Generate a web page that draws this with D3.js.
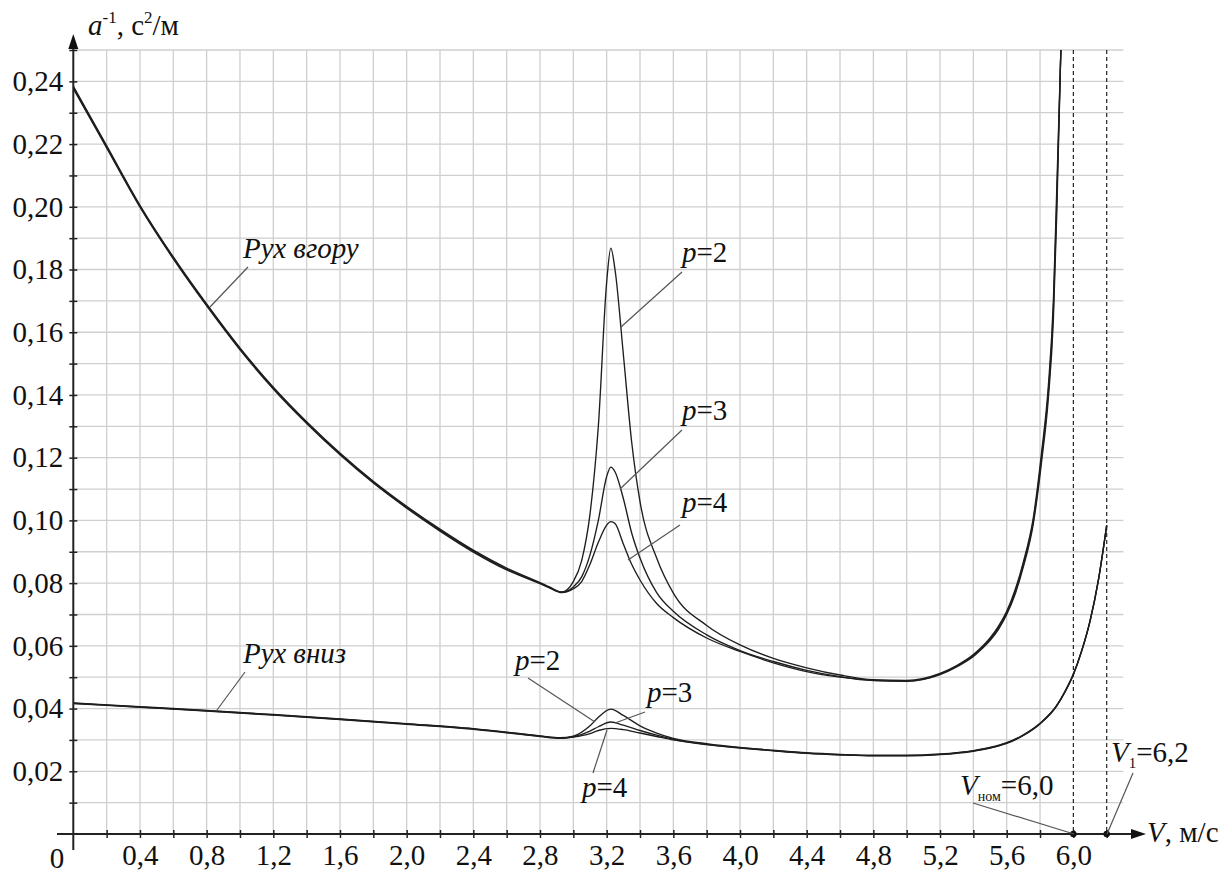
<!DOCTYPE html>
<html><head><meta charset="utf-8">
<script src="https://cdn.jsdelivr.net/npm/d3@7"></script>
<style>body{margin:0;background:#fff}svg{display:block}
svg text{font-family:"Liberation Serif","Tinos","Times New Roman",Times,"DejaVu Serif","Noto Serif",serif;}</style>
</head><body>
<svg id="c" width="1229" height="873"></svg>
<script>
// ---- data ----
const upV  = [0,0.2,0.4,0.6,0.8,1.0,1.2,1.4,1.6,1.8,2.0,2.2,2.4,2.6,2.8,2.86,2.93,3.0,3.05,3.1,3.15,3.2,3.225,3.25,3.3,3.35,3.4,3.5,3.6,3.8,4.0,4.2,4.4,4.6,4.8,5.0,5.2,5.3,5.4,5.45,5.5,5.55,5.6,5.65,5.7,5.76,5.81,5.85,5.88,5.9,5.925];
const upP2 = [0.2385,0.2195,0.2005,0.1840,0.1690,0.1550,0.1425,0.1315,0.1215,0.1125,0.1045,0.0972,0.0905,0.0848,0.0802,0.0787,0.0772,0.0805,0.0872,0.1020,0.1300,0.1760,0.1868,0.1800,0.1530,0.1250,0.1060,0.0880,0.0768,0.0665,0.0603,0.0560,0.0530,0.0507,0.0492,0.0490,0.0512,0.0537,0.0572,0.0596,0.0625,0.0662,0.0710,0.0778,0.0868,0.1010,0.1220,0.1430,0.1700,0.2050,0.2500];
const upP3 = [0.2380,0.2191,0.2002,0.1837,0.1687,0.1547,0.1422,0.1312,0.1212,0.1122,0.1042,0.0969,0.0902,0.0845,0.0800,0.0785,0.0771,0.0788,0.0820,0.0890,0.1000,0.1140,0.1170,0.1155,0.1070,0.0960,0.0880,0.0770,0.0710,0.0635,0.0585,0.0550,0.0522,0.0502,0.0490,0.0488,0.0510,0.0535,0.0569,0.0593,0.0621,0.0657,0.0705,0.0771,0.0860,0.1000,0.1205,0.1410,0.1670,0.2010,0.2500];
const upP4 = [0.2377,0.2188,0.1999,0.1834,0.1684,0.1544,0.1419,0.1309,0.1209,0.1119,0.1039,0.0966,0.0899,0.0842,0.0798,0.0784,0.0770,0.0782,0.0805,0.0860,0.0930,0.0985,0.0996,0.0990,0.0925,0.0860,0.0810,0.0735,0.0690,0.0625,0.0582,0.0546,0.0518,0.0500,0.0489,0.0487,0.0508,0.0533,0.0566,0.0590,0.0617,0.0652,0.0700,0.0764,0.0852,0.0990,0.1190,0.1390,0.1640,0.1970,0.2500];

const dnV  = [0,0.4,0.8,1.2,1.6,2.0,2.4,2.8,2.92,3.0,3.1,3.15,3.225,3.3,3.4,3.5,3.6,3.8,4.0,4.2,4.4,4.6,4.8,5.0,5.2,5.4,5.5,5.6,5.7,5.8,5.9,5.95,6.0,6.05,6.1,6.15,6.2];
const dnP2 = [0.0418,0.0406,0.0394,0.0381,0.0367,0.0352,0.0336,0.0313,0.0307,0.0312,0.0345,0.0372,0.0398,0.0378,0.0345,0.0322,0.0305,0.0288,0.0276,0.0267,0.0259,0.0254,0.0251,0.0251,0.0255,0.0266,0.0276,0.0291,0.0316,0.0353,0.0410,0.0455,0.0510,0.0585,0.0680,0.0810,0.0985];
const dnP3 = [0.0417,0.0405,0.0393,0.0380,0.0366,0.0351,0.0335,0.0312,0.0306,0.0310,0.0328,0.0342,0.0357,0.0347,0.0330,0.0315,0.0302,0.0286,0.0275,0.0266,0.0258,0.0253,0.0250,0.0250,0.0254,0.0265,0.0275,0.0290,0.0315,0.0352,0.0409,0.0454,0.0509,0.0584,0.0679,0.0809,0.0984];
const dnP4 = [0.0416,0.0404,0.0392,0.0379,0.0365,0.0350,0.0334,0.0311,0.0305,0.0309,0.0320,0.0330,0.0337,0.0333,0.0322,0.0311,0.0300,0.0285,0.0274,0.0265,0.0257,0.0252,0.0249,0.0249,0.0253,0.0264,0.0274,0.0289,0.0314,0.0351,0.0408,0.0453,0.0508,0.0583,0.0678,0.0808,0.0983];

const xTickVals   = [0.2,0.4,0.6,0.8,1.0,1.2,1.4,1.6,1.8,2.0,2.2,2.4,2.6,2.8,3.0,3.2,3.4,3.6,3.8,4.0,4.2,4.4,4.6,4.8,5.0,5.2,5.4,5.6,5.8,6.0,6.2];
const xLabelVals  = [0.4,0.8,1.2,1.6,2.0,2.4,2.8,3.2,3.6,4.0,4.4,4.8,5.2,5.6,6.0];
const xLabels     = ["0,4","0,8","1,2","1,6","2,0","2,4","2,8","3,2","3,6","4,0","4,4","4,8","5,2","5,6","6,0"];
const yLabelVals  = [0.02,0.04,0.06,0.08,0.10,0.12,0.14,0.16,0.18,0.20,0.22,0.24];
const yLabels     = ["0,02","0,04","0,06","0,08","0,10","0,12","0,14","0,16","0,18","0,20","0,22","0,24"];
const yTickVals   = d3.range(1,26).map(i=>i/100);
const markV       = [6.0, 6.2];

// ---- scales ----
const x = d3.scaleLinear().domain([0,6.2]).range([73.3,1106.7]);
const y = d3.scaleLinear().domain([0,0.25]).range([834,50]);
const svg = d3.select("#c");

// grid
const grid = svg.append("g").attr("stroke","#cfcfcf").attr("stroke-width",1.3);
grid.selectAll(".h").data(yTickVals).enter().append("line")
  .attr("x1",x(0)).attr("x2",x(6.3)).attr("y1",d=>y(d)).attr("y2",d=>y(d));
grid.selectAll(".v").data(xTickVals.filter(v=>v<5.9)).enter().append("line")
  .attr("x1",d=>x(d)).attr("x2",d=>x(d)).attr("y1",y(0)).attr("y2",y(0.25));

// dashed markers
svg.append("g").selectAll("line").data(markV).enter().append("line")
  .attr("x1",d=>x(d)).attr("x2",d=>x(d)).attr("y1",y(0.25)).attr("y2",y(0))
  .attr("stroke","#222").attr("stroke-width",1.2).attr("stroke-dasharray","4,3");

// curves
svg.append("clipPath").attr("id","clip").append("rect")
  .attr("x",x(0)).attr("y",y(0.25)).attr("width",x(6.3)-x(0)).attr("height",y(0)-y(0.25));
const line = d3.line().x(d=>x(d[0])).y(d=>y(d[1])).curve(d3.curveMonotoneX);
const series = [
  [upV,upP2],[upV,upP3],[upV,upP4],
  [dnV,dnP2],[dnV,dnP3],[dnV,dnP4]
];
const cg = svg.append("g").attr("clip-path","url(#clip)");
series.forEach(([vs,vals])=>{
  cg.append("path").attr("d",line(vs.map((v,i)=>[v,vals[i]])))
    .attr("fill","none").attr("stroke","#1e1e1e").attr("stroke-width",1.35);
});

// axes
const xAxis = d3.axisBottom(x).tickValues(xTickVals).tickSize(4).tickFormat("");
const gx = svg.append("g").attr("transform",`translate(0,${y(0)})`).call(xAxis);
gx.select(".domain").remove();
gx.selectAll(".tick line").attr("y1",-4).attr("y2",4).attr("stroke","#222").attr("stroke-width",1.5);

const yAxis = d3.axisLeft(y).tickValues(yTickVals).tickSize(4).tickFormat("");
const gy = svg.append("g").attr("transform",`translate(${x(0)},0)`).call(yAxis);
gy.select(".domain").remove();
gy.selectAll(".tick line").attr("x1",-4).attr("x2",4).attr("stroke","#222").attr("stroke-width",1.5);

// labels via axes
const xLab = d3.axisBottom(x).tickValues(xLabelVals).tickSize(0).tickPadding(22)
  .tickFormat((d,i)=>xLabels[i]);
const gxl = svg.append("g").attr("transform",`translate(0,${y(0)})`).call(xLab);
gxl.attr("font-family",null);
gxl.select(".domain").remove();
gxl.selectAll("text").attr("font-size",29).attr("fill","#111").attr("dy","0.71em").attr("y",10);

const yLab = d3.axisLeft(y).tickValues(yLabelVals).tickSize(0).tickPadding(10)
  .tickFormat((d,i)=>yLabels[i]);
const gyl = svg.append("g").attr("transform",`translate(${x(0)},0)`).call(yLab);
gyl.attr("font-family",null);
gyl.select(".domain").remove();
gyl.selectAll("text").attr("font-size",29).attr("fill","#111");

svg.append("text").attr("x",57).attr("y",868).attr("text-anchor","middle")
  .attr("font-size",29).attr("fill","#111").text("0");

// axis lines and arrows
svg.append("line").attr("x1",57).attr("x2",1136).attr("y1",y(0)).attr("y2",y(0)).attr("stroke","#222").attr("stroke-width",2);
svg.append("line").attr("x1",x(0)).attr("x2",x(0)).attr("y1",850).attr("y2",44).attr("stroke","#222").attr("stroke-width",2);
svg.append("path").attr("d",`M1146,${y(0)} L1131,${y(0)-5} L1131,${y(0)+5} Z`).attr("fill","#111");
svg.append("path").attr("d",`M${x(0)},34 L${x(0)-5},49 L${x(0)+5},49 Z`).attr("fill","#111");

// marker dots
svg.append("g").selectAll("circle").data(markV).enter().append("circle")
  .attr("cx",d=>x(d)).attr("cy",y(0)).attr("r",3.2).attr("fill","#111");

// axis titles
const t1 = svg.append("text").attr("x",88).attr("y",35).attr("font-size",29).attr("fill","#111");
t1.append("tspan").attr("font-style","italic").text("a");
t1.append("tspan").attr("font-size",17).attr("dy",-12).text("-1");
t1.append("tspan").attr("dy",12).text(", с");
t1.append("tspan").attr("font-size",17).attr("dy",-12).text("2");
t1.append("tspan").attr("dy",12).text("/м");

const t2 = svg.append("text").attr("x",1147).attr("y",842).attr("font-size",29).attr("fill","#111");
t2.append("tspan").attr("font-style","italic").text("V");
t2.append("tspan").text(", м/с");

// annotations
const leaders = [
  [248,267,210,307],[245,672,217,710],
  [682,272,621,327],[682,430,620,489],[680,525,628,560],
  [528,678,595,722],[645,712,615,723],[593,773,607,730],
  [973,803,1074,834],[1133,773,1107,834]
];
svg.append("g").selectAll("line").data(leaders).enter().append("line")
  .attr("x1",d=>d[0]).attr("y1",d=>d[1]).attr("x2",d=>d[2]).attr("y2",d=>d[3])
  .attr("stroke","#555").attr("stroke-width",1.2);

function lab(xp,yp,parts){
  const t = svg.append("text").attr("x",xp).attr("y",yp).attr("font-size",29).attr("fill","#111");
  parts.forEach(p=>{
    const s = t.append("tspan").text(p.t);
    if(p.i) s.attr("font-style","italic");
    if(p.fs) s.attr("font-size",p.fs);
    if(p.dy) s.attr("dy",p.dy);
  });
}
lab(243,258,[{t:"Рух вгору",i:1}]);
lab(243,663,[{t:"Рух вниз",i:1}]);
lab(682,262,[{t:"p",i:1},{t:"=2"}]);
lab(682,420,[{t:"p",i:1},{t:"=3"}]);
lab(682,512,[{t:"p",i:1},{t:"=4"}]);
lab(515,670,[{t:"p",i:1},{t:"=2"}]);
lab(647,702,[{t:"p",i:1},{t:"=3"}]);
lab(582,797,[{t:"p",i:1},{t:"=4"}]);
lab(960,795,[{t:"V",i:1},{t:"ном",fs:14,dy:6},{t:"=6,0",dy:-6}]);
lab(1111,762,[{t:"V",i:1},{t:"1",fs:15,dy:6},{t:"=6,2",dy:-6}]);
</script>
</body></html>
